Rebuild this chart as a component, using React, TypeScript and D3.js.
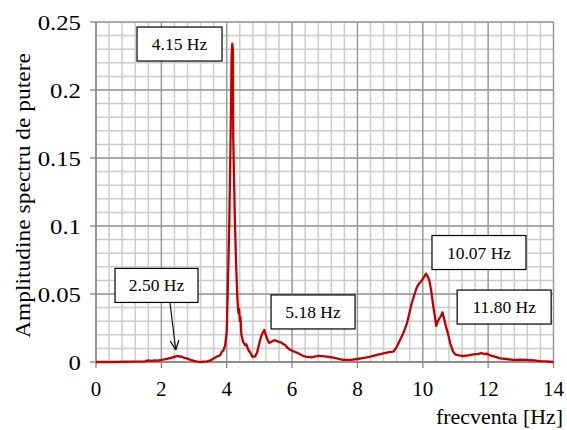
import React from "react";
import * as d3 from "d3";

// frequency (Hz) and power spectrum amplitude
const freq = [
  0, 0.5, 1.0, 1.5, 1.6, 1.7, 1.8, 1.9, 2.0, 2.1, 2.2, 2.3, 2.4, 2.5, 2.55, 2.6, 2.7, 2.8, 2.9, 3.0,
  3.1, 3.2, 3.3, 3.4, 3.5, 3.6, 3.7, 3.8, 3.85, 3.9, 3.95, 4.0, 4.04, 4.08, 4.11, 4.13, 4.15, 4.17,
  4.19, 4.2, 4.22, 4.25, 4.29, 4.33, 4.36, 4.38, 4.4, 4.42, 4.45, 4.5, 4.56, 4.6, 4.66, 4.72, 4.78,
  4.87, 4.93, 4.97, 5.02, 5.07, 5.15, 5.22, 5.3, 5.38, 5.46, 5.52, 5.58, 5.65, 5.72, 5.79, 5.86,
  5.94, 6.05, 6.19, 6.3, 6.4, 6.6, 6.8, 7.0, 7.2, 7.4, 7.56, 7.8, 8.0, 8.2, 8.4, 8.6, 8.8, 9.0, 9.1,
  9.2, 9.3, 9.4, 9.51, 9.6, 9.66, 9.75, 9.82, 9.9, 9.97, 10.05, 10.1, 10.15, 10.2, 10.26, 10.31,
  10.36, 10.41, 10.46, 10.51, 10.56, 10.6, 10.65, 10.71, 10.78, 10.84, 10.92, 10.99, 11.1, 11.24,
  11.4, 11.55, 11.7, 11.8, 11.88, 11.95, 12.06, 12.2, 12.37, 12.55, 12.77, 13.0, 13.18, 13.4,
  13.59, 13.8, 14.0,
];
const amp = [
  0, 0, 0.0003, 0.0005, 0.0012, 0.0008, 0.0012, 0.001, 0.0015, 0.002, 0.0025, 0.003, 0.0038,
  0.0045, 0.004, 0.0042, 0.003, 0.0025, 0.0015, 0.0008, 0.0003, 0, 0.0003, 0.0005, 0.0012, 0.0025,
  0.004, 0.005, 0.0075, 0.0085, 0.012, 0.022, 0.06, 0.104, 0.15, 0.185, 0.225, 0.234, 0.23, 0.165,
  0.14, 0.104, 0.07, 0.045, 0.036, 0.039, 0.03, 0.033, 0.02, 0.015, 0.0125, 0.013, 0.009, 0.007,
  0.004, 0.004, 0.007, 0.011, 0.016, 0.02, 0.0235, 0.018, 0.014, 0.015, 0.016, 0.0155, 0.015,
  0.0145, 0.0135, 0.0125, 0.0105, 0.009, 0.0078, 0.0064, 0.005, 0.004, 0.0035, 0.0045, 0.0042,
  0.0035, 0.0025, 0.0015, 0.0015, 0.0022, 0.003, 0.004, 0.0052, 0.0064, 0.0075, 0.0076, 0.011,
  0.016, 0.021, 0.028, 0.037, 0.043, 0.05, 0.055, 0.058, 0.06, 0.063, 0.065, 0.063, 0.06, 0.052,
  0.043, 0.035, 0.0265, 0.03, 0.032, 0.034, 0.0365, 0.032, 0.026, 0.02, 0.0137, 0.008, 0.0056,
  0.0048, 0.0044, 0.0048, 0.0056, 0.006, 0.0066, 0.0058, 0.0062, 0.0049, 0.004, 0.0027, 0.0022,
  0.0015, 0.0018, 0.0015, 0.0012, 0.0007, 0.0005, 0,
];

const xTicks = [0, 2, 4, 6, 8, 10, 12, 14];
const yTicks = [0, 0.05, 0.1, 0.15, 0.2, 0.25];
const yTickLabels = ["0", "0.05", "0.1", "0.15", "0.2", "0.25"];

// peak labels: text, box centre in data units
const noteText = ["4.15 Hz", "2.50 Hz", "5.18 Hz", "10.07 Hz", "11.80 Hz"];
const noteX = [2.556, 1.852, 6.642, 11.72, 12.49];
const noteY = [0.2338, 0.0563, 0.0368, 0.0805, 0.0404];
const noteW = [85, 83, 84, 94, 94];

const txt = { fontFamily: "Liberation Serif, serif", fill: "#000" };

export default function App() {
  const x = d3.scaleLinear().domain([0, 14]).range([96, 553.5]);
  const y = d3.scaleLinear().domain([0, 0.25]).range([362, 22]);

  const minorX = d3.range(0, 14.001, 0.4).filter((v) => Math.abs(v / 2 - Math.round(v / 2)) > 1e-6);
  const minorY = d3.range(0, 0.2501, 0.01);

  const pts = freq.map((f, i) => [f, amp[i]] as [number, number]);
  const line = d3
    .line<[number, number]>()
    .x((d) => x(d[0]))
    .y((d) => y(d[1]));

  return (
    <svg
      width={567}
      height={430}
      style={{ position: "absolute", left: 0, top: 0, background: "#fff" }}
    >
      <defs>
        <marker id="arr" viewBox="0 0 10 10" refX="10" refY="5" markerWidth="9" markerHeight="9" orient="auto">
          <path d="M0,0.5 L10,5 L0,9.5" fill="none" stroke="#000" strokeWidth="1.2" />
        </marker>
      </defs>

      {/* minor grid */}
      {minorX.map((v) => (
        <line key={"mx" + v} x1={x(v)} x2={x(v)} y1={y(0)} y2={y(0.25)} stroke="#cccccc" strokeWidth={1.5} />
      ))}
      {minorY.map((v) => (
        <line key={"my" + v} x1={x(0)} x2={x(14)} y1={y(v)} y2={y(v)} stroke="#cccccc" strokeWidth={1.5} />
      ))}
      {/* major grid */}
      {xTicks.map((v) => (
        <line key={"gx" + v} x1={x(v)} x2={x(v)} y1={y(0)} y2={y(0.25)} stroke="#999999" strokeWidth={1.5} />
      ))}
      {yTicks.map((v) => (
        <line key={"gy" + v} x1={x(0)} x2={x(14)} y1={y(v)} y2={y(v)} stroke="#999999" strokeWidth={1.5} />
      ))}

      {/* axes */}
      <line x1={x(0)} x2={x(0)} y1={y(0)} y2={y(0.25)} stroke="#868686" strokeWidth={1.3} />
      <line x1={x(0)} x2={x(14)} y1={y(0)} y2={y(0)} stroke="#868686" strokeWidth={1.3} />
      {yTicks.map((v) => (
        <line key={"ty" + v} x1={x(0) - 6} x2={x(0)} y1={y(v)} y2={y(v)} stroke="#868686" strokeWidth={1.3} />
      ))}
      {xTicks.map((v) => (
        <line key={"tx" + v} x1={x(v)} x2={x(v)} y1={y(0)} y2={y(0) + 6} stroke="#868686" strokeWidth={1.3} />
      ))}

      {/* tick labels */}
      {yTicks.map((v, i) => (
        <text
          key={"ly" + v}
          transform={`translate(81,${y(v) + 7.5}) scale(1.18,1)`}
          textAnchor="end"
          fontSize={21}
          style={txt}
        >
          {yTickLabels[i]}
        </text>
      ))}
      {xTicks.map((v) => (
        <text key={"lx" + v} x={x(v)} y={396} textAnchor="middle" fontSize={21} style={txt}>
          {v}
        </text>
      ))}

      {/* axis titles */}
      <text
        transform="translate(30,195.5) rotate(-90)"
        textAnchor="middle"
        fontSize={21}
        textLength={285}
        lengthAdjust="spacingAndGlyphs"
        style={txt}
      >
        Amplitudine spectru de putere
      </text>
      <text x={563} y={424} textAnchor="end" fontSize={21} textLength={127} lengthAdjust="spacingAndGlyphs" style={txt}>
        frecventa [Hz]
      </text>

      {/* spectrum */}
      <path d={line(pts) ?? ""} fill="none" stroke="#c00000" strokeWidth={2.3} strokeLinejoin="round" />

      {/* arrow for the 2.50 Hz label */}
      <line x1={x(2.265)} y1={y(0.0563) + 17.5} x2={x(2.44)} y2={y(0.0088)} stroke="#000" strokeWidth={1.1} markerEnd="url(#arr)" />

      {/* labels */}
      {noteText.map((t, i) => (
        <g key={t} transform={`translate(${x(noteX[i])},${y(noteY[i])})`}>
          <rect x={-noteW[i] / 2} y={-17} width={noteW[i]} height={34} fill="#fff" stroke="#000" strokeWidth={1.2} />
          <text y={6} textAnchor="middle" fontSize={17.5} style={txt}>
            {t}
          </text>
        </g>
      ))}
    </svg>
  );
}
